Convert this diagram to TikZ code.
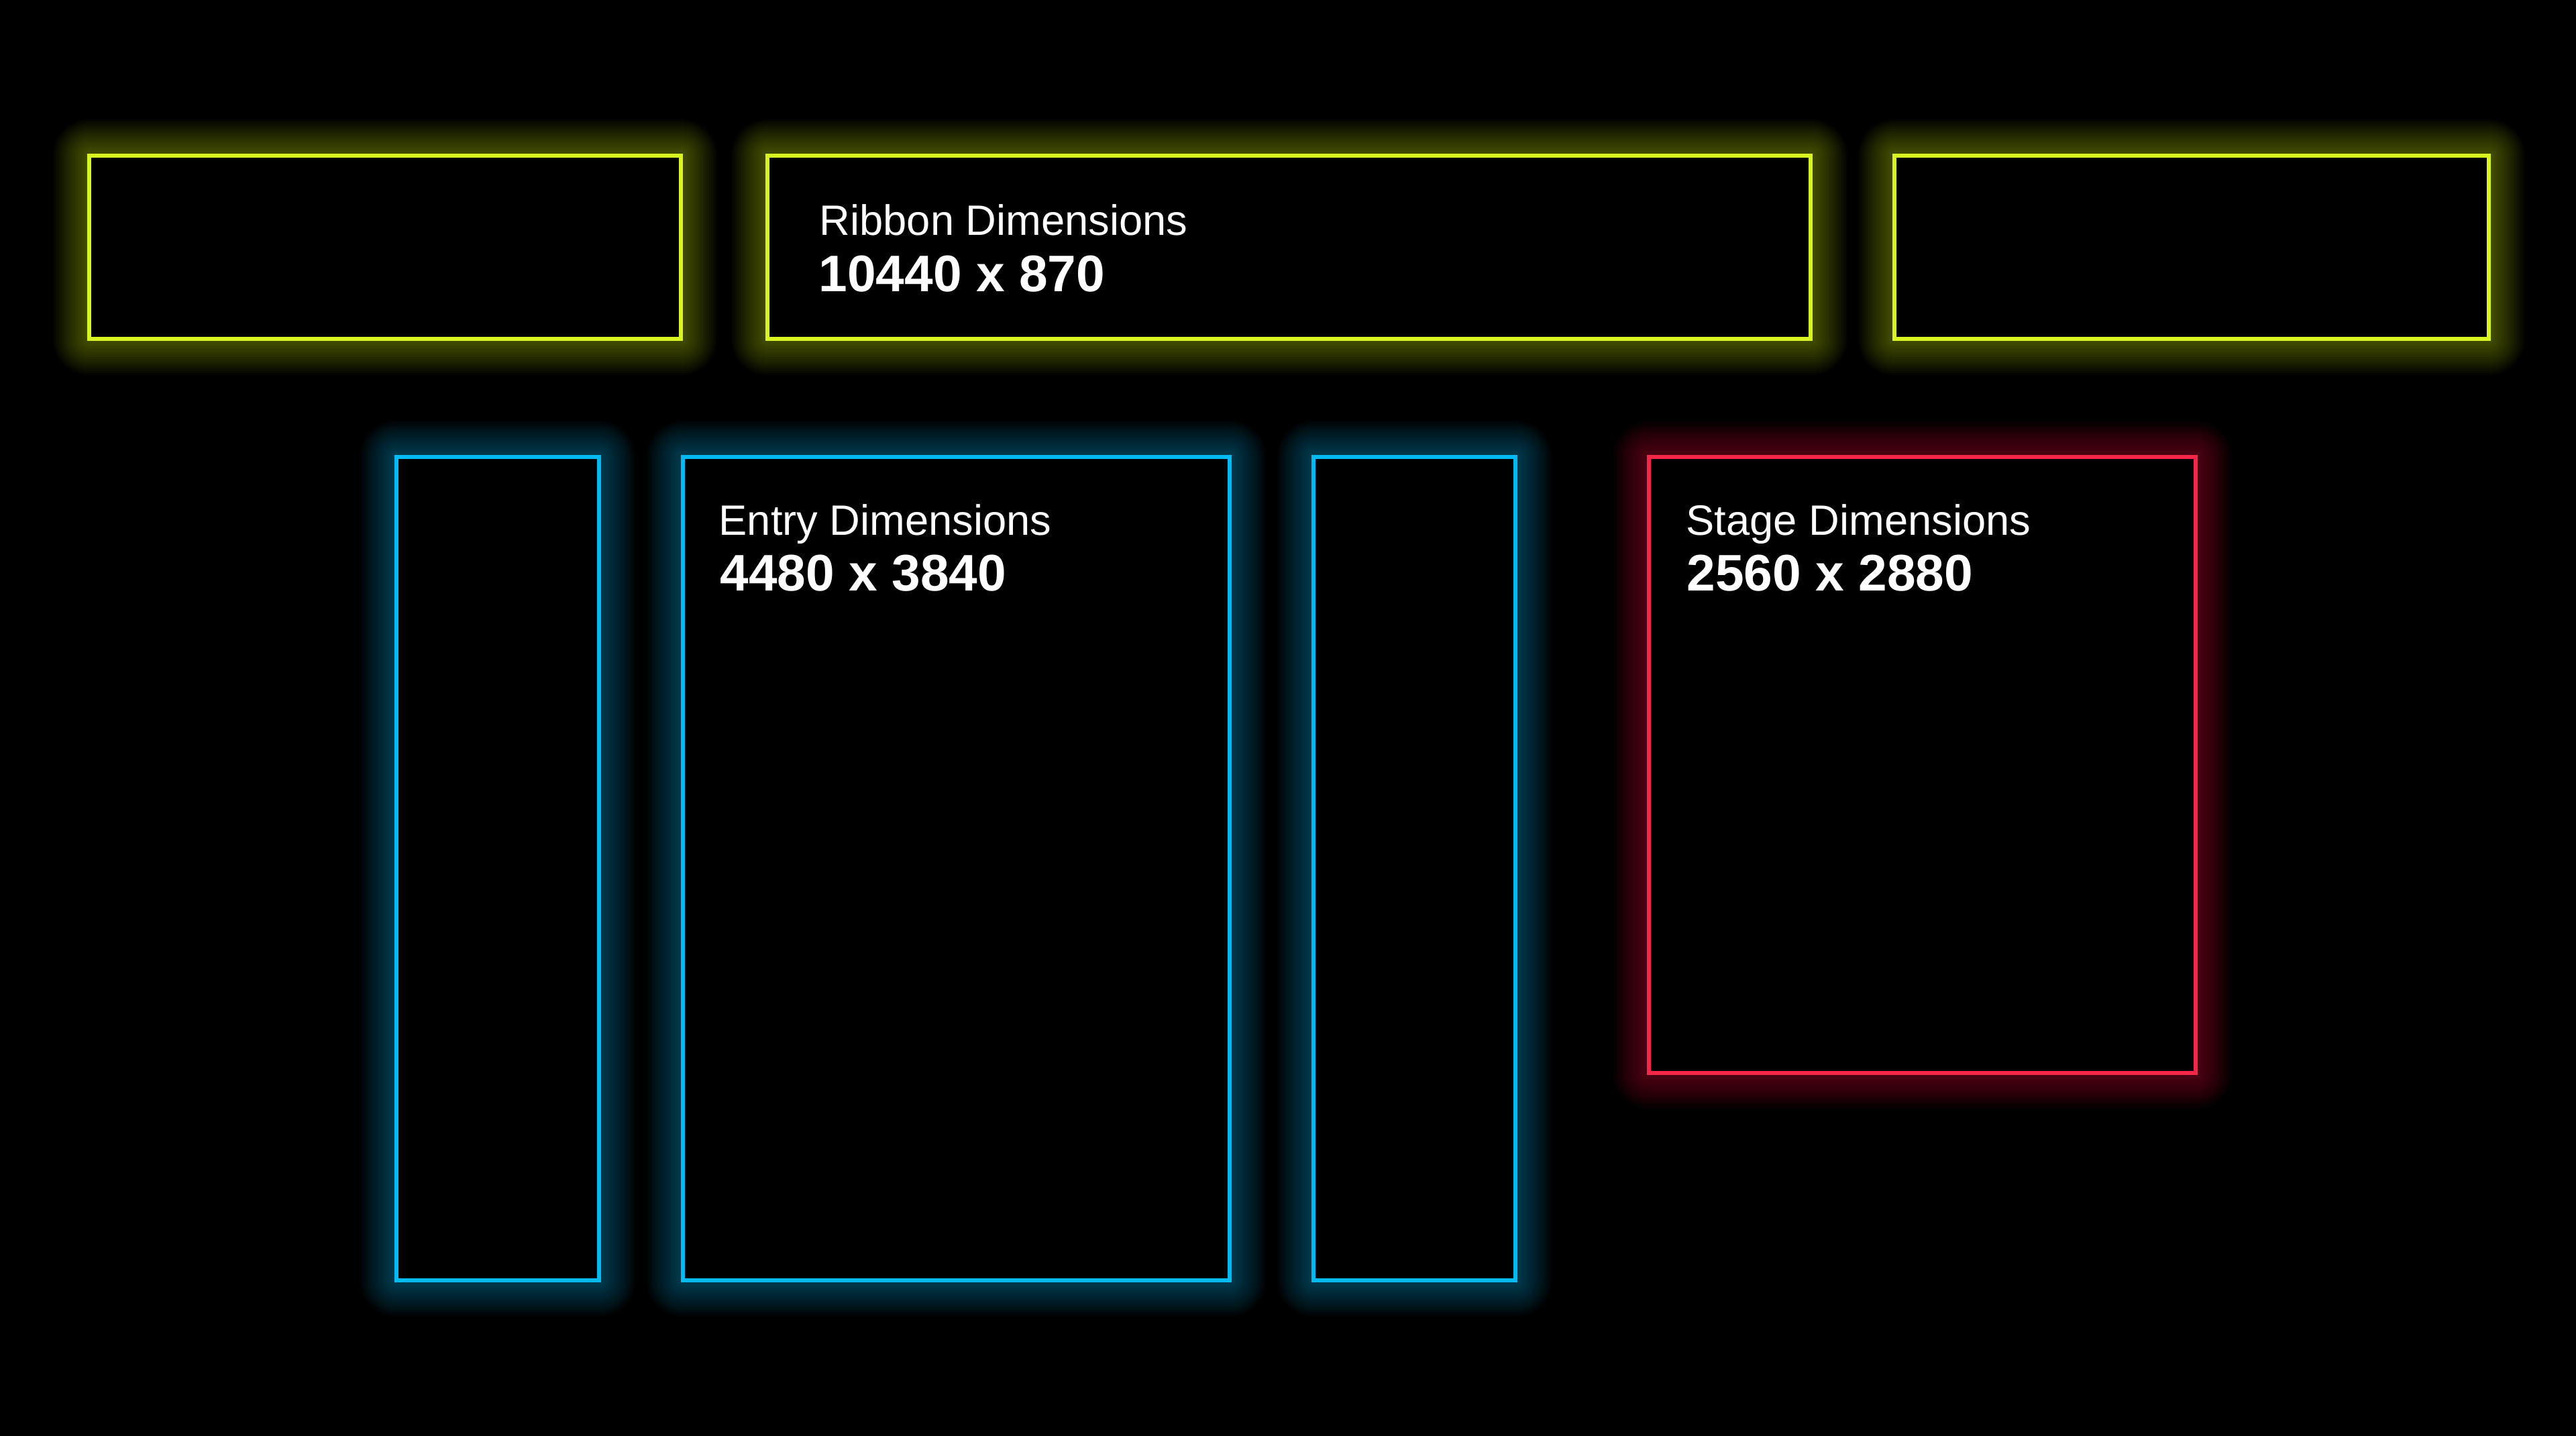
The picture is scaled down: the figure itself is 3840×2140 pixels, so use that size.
\documentclass[tikz,border=0pt]{standalone}
\usepackage{fontspec}
\setmainfont{Liberation Sans}
\pgfdeclarelayer{bgpage}
\pgfdeclarelayer{glowlayer}
\pgfsetlayers{bgpage,glowlayer,main}
\definecolor{neonyellow}{HTML}{D8F522}
\definecolor{neonblue}{HTML}{00BAF3}
\definecolor{neonred}{HTML}{F4264A}
\tikzset{
  panel/.style={draw=#1, fill=black, line width=0.06cm, inner sep=0pt, outer sep=0pt, rectangle},
  lbl/.style={text=white, anchor=base west, inner sep=0pt, font=\fontsize{18}{21}\selectfont},
  dims/.style={text=white, anchor=base west, inner sep=0pt, font=\fontsize{21.8}{26}\selectfont\bfseries},
}
\newcommand\glowof[2]{%
  \begin{pgfonlayer}{glowlayer}
  \foreach \d in {0.03,0.06,...,0.54}{
    \draw[#2, line width=2*\d cm, opacity=0.025, line join=round]
      (#1.north west) rectangle (#1.south east);
  }
  \end{pgfonlayer}}
\begin{document}
\begin{tikzpicture}[x=0.01cm,y=-0.01cm]
\begin{pgfonlayer}{bgpage}
\fill[black] (0,0) rectangle (3840,2140);
\end{pgfonlayer}
\useasboundingbox (0,0) rectangle (3840,2140);
% ribbon row
\node[panel=neonyellow, minimum width=8.82cm, minimum height=2.73cm] (y1) at (574,368.5) {};
\node[panel=neonyellow, minimum width=15.55cm, minimum height=2.73cm] (y2) at (1921.5,368.5) {};
\node[panel=neonyellow, minimum width=8.86cm, minimum height=2.73cm] (y3) at (3267,368.5) {};
% entry row
\node[panel=neonblue, minimum width=3.02cm, minimum height=12.27cm] (b1) at (742,1294.5) {};
\node[panel=neonblue, minimum width=8.15cm, minimum height=12.27cm] (b2) at (1425.5,1294.5) {};
\node[panel=neonblue, minimum width=3.01cm, minimum height=12.27cm] (b3) at (2108.5,1294.5) {};
% stage
\node[panel=neonred, minimum width=8.15cm, minimum height=9.18cm] (st) at (2865.5,1140) {};
\glowof{y1}{neonyellow}
\glowof{y2}{neonyellow}
\glowof{y3}{neonyellow}
\glowof{b1}{neonblue}
\glowof{b2}{neonblue}
\glowof{b3}{neonblue}
\glowof{st}{neonred}
% labels
\node[lbl] (rt) at (1221,351) {Ribbon Dimensions};
\node[dims] (rd) at (1220,435) {10440 x 870};
\node[lbl] (et) at (1071,797) {Entry Dimensions};
\node[dims] (ed) at (1073,880) {4480 x 3840};
\node[lbl] (sl) at (2513,797) {Stage Dimensions};
\node[dims] (sd) at (2514,880) {2560 x 2880};
\end{tikzpicture}
\end{document}
